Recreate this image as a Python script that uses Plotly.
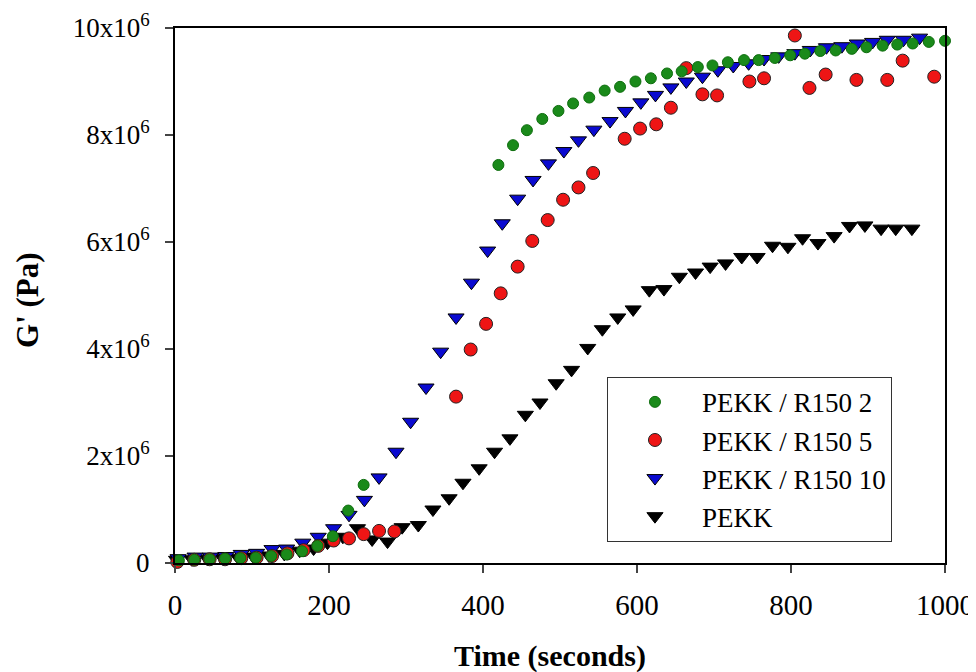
import plotly.graph_objects as go

# ---- data ----
t_r2 = [5, 25, 45, 65, 85, 105, 125, 145, 165, 185, 205, 225, 245,
        420, 439, 457, 477, 498, 517, 538, 558, 578, 598, 618, 639, 658, 679,
        698, 718, 739, 758, 779, 799, 818, 838, 858, 879, 898, 919, 938, 958, 979, 1000]
g_r2 = [0.05, 0.06, 0.07, 0.08, 0.09, 0.10, 0.13, 0.16, 0.22, 0.32, 0.50, 0.98, 1.46,
        7.44, 7.81, 8.09, 8.30, 8.45, 8.59, 8.70, 8.83, 8.90, 9.00, 9.06, 9.15, 9.19, 9.27,
        9.30, 9.36, 9.40, 9.40, 9.44, 9.49, 9.52, 9.57, 9.58, 9.61, 9.64, 9.67, 9.69, 9.71, 9.74, 9.76]

t_r5 = [3, 25, 45, 65, 86, 106, 126, 146, 167, 186, 206, 226, 245, 265, 285,
        365, 384, 404, 423, 445, 464, 484, 504, 524, 543,
        584, 604, 625, 644, 664, 685, 704, 746, 765, 805, 824, 845, 885, 925, 945, 986]
g_r5 = [0.02, 0.06, 0.07, 0.07, 0.09, 0.10, 0.13, 0.18, 0.24, 0.32, 0.42, 0.46, 0.54, 0.60, 0.59,
        3.11, 3.99, 4.47, 5.04, 5.54, 6.02, 6.41, 6.79, 7.02, 7.29,
        7.93, 8.12, 8.20, 8.51, 9.25, 8.76, 8.74, 9.00, 9.06, 9.86, 8.88, 9.13, 9.03, 9.03, 9.39, 9.09]

t_r10 = [4, 26, 46, 66, 86, 106, 126, 145, 166, 186, 206, 226, 246, 265, 287, 306, 326, 345, 365,
         385, 406, 425, 445, 465, 485, 505, 524, 544, 565, 585, 605, 624, 644, 664, 685, 705,
         725, 745, 765, 784, 805, 825, 846, 866, 886, 906, 925, 946, 967]
g_r10 = [0.09, 0.12, 0.12, 0.13, 0.17, 0.19, 0.26, 0.27, 0.38, 0.49, 0.65, 0.90, 1.18, 1.60, 2.08, 2.64, 3.28, 3.95, 4.59,
         5.24, 5.84, 6.35, 6.81, 7.16, 7.47, 7.70, 7.90, 8.10, 8.26, 8.45, 8.61, 8.75, 8.89, 9.00, 9.09, 9.21,
         9.29, 9.34, 9.42, 9.47, 9.53, 9.59, 9.64, 9.66, 9.71, 9.74, 9.78, 9.78, 9.82]

t_pekk = [2, 22, 42, 62, 82, 102, 122, 142, 162, 180, 198, 218, 237, 256, 276, 295, 316, 335, 356,
          374, 395, 415, 435, 455, 474, 495, 515, 536, 555, 575, 595, 616, 635, 655, 676, 695,
          715, 736, 756, 776, 796, 815, 835, 856, 876, 896, 917, 936, 957]
g_pekk = [0.06, 0.07, 0.08, 0.09, 0.10, 0.12, 0.14, 0.17, 0.23, 0.27, 0.38, 0.49, 0.65, 0.44, 0.40, 0.67, 0.71, 1.00, 1.21,
          1.50, 1.77, 2.08, 2.33, 2.77, 3.00, 3.36, 3.61, 4.02, 4.37, 4.59, 4.74, 5.10, 5.12, 5.35, 5.43, 5.54,
          5.60, 5.72, 5.72, 5.93, 5.91, 6.07, 5.98, 6.11, 6.30, 6.31, 6.25, 6.25, 6.25]

y_tickvals = [0, 2, 4, 6, 8, 10]
y_ticktext = ["0", "2x10<sup>6</sup>", "4x10<sup>6</sup>", "6x10<sup>6</sup>",
              "8x10<sup>6</sup>", "10x10<sup>6</sup>"]
x_tickvals = [0, 200, 400, 600, 800, 1000]
x_title = "Time (seconds)"
y_title = "G' (Pa)"

SERIF = "Liberation Serif"

fig = go.Figure()
fig.add_trace(go.Scatter(
    x=t_pekk, y=g_pekk, mode="markers", name="PEKK", legendrank=4,
    marker=dict(symbol="triangle-down", size=14, color="#000000",
                line=dict(color="#000000", width=1)), cliponaxis=False))
fig.add_trace(go.Scatter(
    x=t_r10, y=g_r10, mode="markers", name="PEKK / R150 10", legendrank=3,
    marker=dict(symbol="triangle-down", size=14, color="#0a0ad0",
                line=dict(color="#000000", width=1)), cliponaxis=False))
fig.add_trace(go.Scatter(
    x=t_r5, y=g_r5, mode="markers", name="PEKK / R150 5", legendrank=2,
    marker=dict(symbol="circle", size=13, color="#ee1515",
                line=dict(color="#222222", width=1)), cliponaxis=False))
fig.add_trace(go.Scatter(
    x=t_r2, y=g_r2, mode="markers", name="PEKK / R150 2", legendrank=1,
    marker=dict(symbol="circle", size=11, color="#1a8a1a",
                line=dict(color="#0d6d0d", width=1)), cliponaxis=False))

fig.update_layout(
    width=968, height=664,
    margin=dict(l=167, r=31, t=20, b=109),
    paper_bgcolor="white", plot_bgcolor="white",
    font=dict(family=SERIF, size=24, color="black"),
    showlegend=True,
    legend=dict(
        x=0.561, y=0.348, xanchor="left", yanchor="top",
        bordercolor="#333333", borderwidth=1, bgcolor="white",
        font=dict(family=SERIF, size=27, color="black"),
        itemwidth=84,
    ),
    xaxis=dict(
        range=[0, 1000], tickvals=x_tickvals, ticks="outside", ticklen=8, tickwidth=2,
        showline=True, linecolor="black", linewidth=2, mirror=True,
        showgrid=False, zeroline=False, automargin=False, ticklabelstandoff=7,
        tickfont=dict(family=SERIF, size=29),
    ),
    yaxis=dict(
        range=[0, 10], tickvals=y_tickvals, ticktext=y_ticktext, ticks="outside", ticklen=8, tickwidth=2,
        showline=True, linecolor="black", linewidth=2, mirror=True,
        showgrid=False, zeroline=False, automargin=False, ticklabelstandoff=10,
        tickfont=dict(family=SERIF, size=27),
    ),
    annotations=[
        dict(text="<b>" + x_title + "</b>", xref="paper", yref="paper", x=0.487, y=-0.174,
             xanchor="center", yanchor="middle", showarrow=False,
             font=dict(family=SERIF, size=30)),
        dict(text="<b>" + y_title + "</b>", xref="paper", yref="paper", x=-0.191, y=0.4916,
             xanchor="center", yanchor="middle", showarrow=False, textangle=-90,
             font=dict(family=SERIF, size=31)),
    ],
)

fig.write_html("out.html")
